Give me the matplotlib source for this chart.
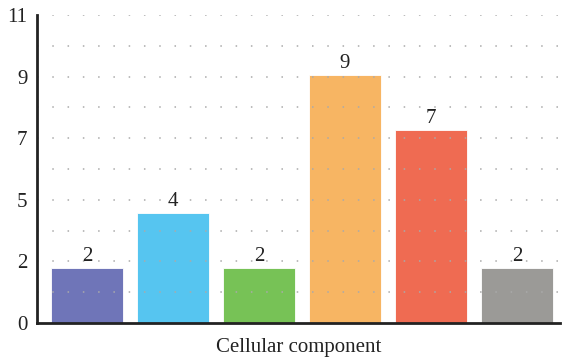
import numpy as np
import matplotlib.pyplot as plt

values = [2, 4, 2, 9, 7, 2]
bar_labels = ["2", "4", "2", "9", "7", "2"]
colors = ["#6F75B8", "#56C5F0", "#77C256", "#F7B563", "#EF6B52", "#9B9A97"]
ytick_labels = ["0", "2", "5", "7", "9", "11"]
xlabel = "Cellular component"

plt.rcParams['font.family'] = ['Liberation Serif', 'DejaVu Serif']

fig = plt.figure(figsize=(5.65, 3.57), dpi=100)
ax = fig.add_axes([0.0655, 0.0952, 0.9255, 0.863])

ymax = 11.2
x = np.arange(len(values))
ax.bar(x, values, width=0.837, color=colors, edgecolor="white", linewidth=0.6, zorder=1)

for xi, v, lab in zip(x, values, bar_labels):
    ax.text(xi, v + 0.08, lab, ha="center", va="bottom", fontsize=15, color="#222222", zorder=3)

ax.set_xlim(-0.58, 5.5)
ax.set_ylim(0, ymax)
ax.set_yticks(np.linspace(0, ymax, 6))
ax.set_yticklabels(ytick_labels)
ax.set_xticks([])

# dotted grid, drawn over the bars
for gy in np.linspace(0, ymax, 11)[1:]:
    ax.axhline(gy, color="#aaaaaa", linewidth=1.1, linestyle=(0, (1, 9)), zorder=2)

ax.tick_params(axis="y", length=0, labelsize=15, pad=7, colors="#222222")
for s in ["top", "right"]:
    ax.spines[s].set_visible(False)
for s in ["left", "bottom"]:
    ax.spines[s].set_linewidth(2)
    ax.spines[s].set_color("#222222")

ax.set_xlabel(xlabel, fontsize=15, color="#222222", labelpad=11)

fig.savefig("out.png", dpi=100)
